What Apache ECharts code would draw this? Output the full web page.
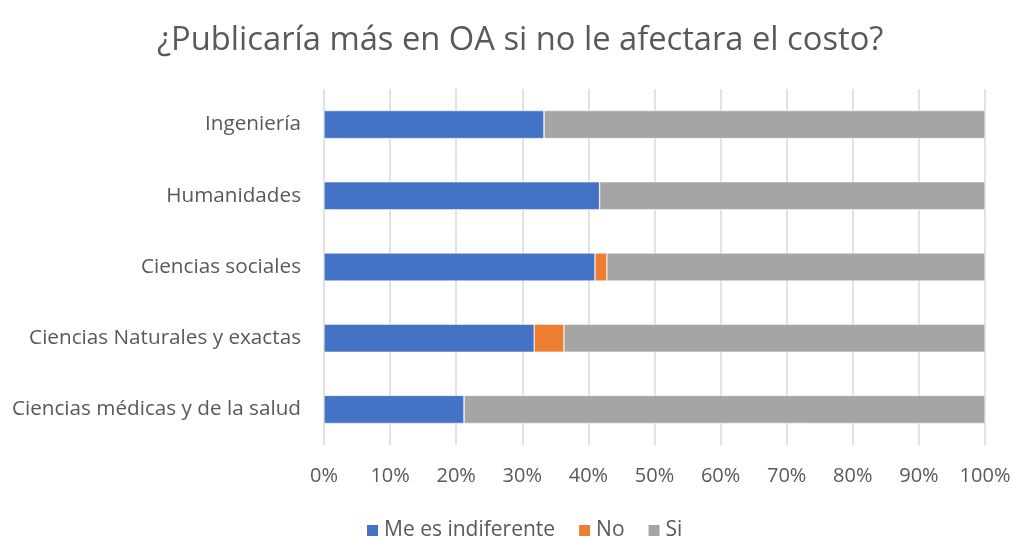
<!DOCTYPE html>
<html>
<head>
<meta charset="utf-8">
<script src="https://cdn.jsdelivr.net/npm/echarts@6/dist/echarts.min.js"></script>
<style>
  html, body { margin: 0; padding: 0; background: #fff; }
  #main { width: 1014px; height: 537px; }
</style>
</head>
<body>
<div id="main"></div>
<script>
// categories, top to bottom
var categories = ['Ingeniería', 'Humanidades', 'Ciencias sociales', 'Ciencias Naturales y exactas', 'Ciencias médicas y de la salud'];
var seriesNames = ['Me es indiferente', 'No', 'Si'];
// percentages
var indiferente = [33.3, 41.7, 41.0, 31.8, 21.2];
var no = [0, 0, 1.8, 4.5, 0];
var si = [66.7, 58.3, 57.2, 63.7, 78.8];

var font = '"Open Sans", "Noto Sans", sans-serif';
var chart = echarts.init(document.getElementById('main'));

function barSeries(name, data) {
  return {
    name: name,
    type: 'bar',
    stack: 'total',
    data: data,
    barWidth: 28,
    itemStyle: { borderColor: '#fff', borderWidth: 0.5 },
    emphasis: { disabled: true }
  };
}

var option = {
  animation: false,
  color: ['#4472c4', '#ed7d31', '#a5a5a5'],
  title: {
    text: '¿Publicaría más en OA si no le afectara el costo?',
    left: 152,
    top: 19,
    textStyle: { fontFamily: font, fontSize: 32.7, fontWeight: 'normal', color: '#595959' }
  },
  legend: {
    data: seriesNames,
    left: 360,
    top: 515,
    itemWidth: 13,
    itemHeight: 13,
    itemGap: 22,
    icon: 'rect',
    textStyle: { fontFamily: font, fontSize: 21, color: '#595959' }
  },
  grid: {
    left: 324,
    right: 29,
    top: 89,
    bottom: 92,
    containLabel: false
  },
  xAxis: {
    type: 'value',
    min: 0,
    max: 100,
    interval: 10,
    axisLine: { show: false },
    axisTick: { show: false },
    splitLine: { lineStyle: { color: '#d9d9d9', width: 1.5 } },
    axisLabel: {
      formatter: '{value}%',
      margin: 21,
      fontFamily: font,
      fontSize: 20,
      color: '#595959'
    }
  },
  yAxis: {
    type: 'category',
    inverse: true,
    data: categories,
    axisLine: { show: false },
    axisTick: { show: false },
    axisLabel: { margin: 23, fontFamily: font, fontSize: 20.7, color: '#595959' }
  },
  series: [
    barSeries(seriesNames[0], indiferente),
    barSeries(seriesNames[1], no),
    barSeries(seriesNames[2], si)
  ]
};

chart.setOption(option);
</script>
</body>
</html>
